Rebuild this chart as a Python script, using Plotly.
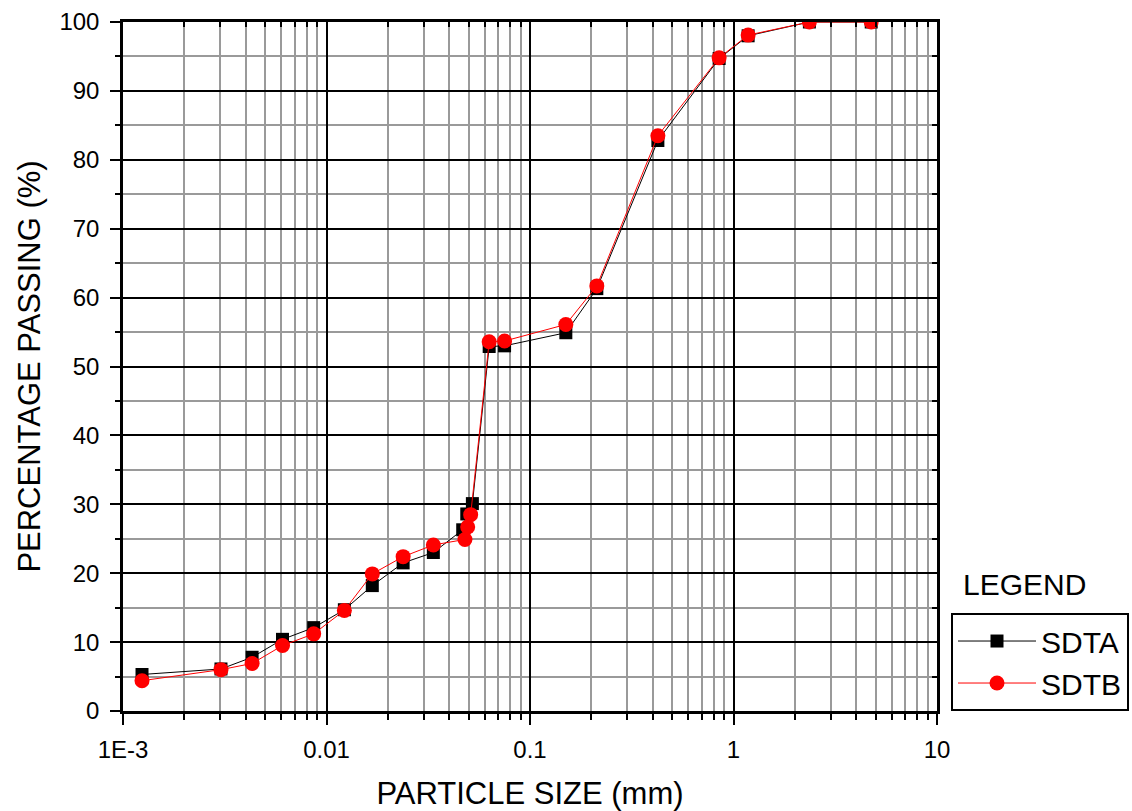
import plotly.graph_objects as go

# ---- data ----
size_a = [0.00124, 0.00303, 0.00431, 0.00608, 0.00865, 0.01224, 0.01679, 0.0238, 0.0335,
          0.0467, 0.0489, 0.0521, 0.063, 0.075, 0.15, 0.213, 0.425, 0.85, 1.18, 2.36, 4.75]
pass_a = [5.3, 6.1, 7.8, 10.4, 12.1, 14.7, 18.2, 21.5, 23.0,
          26.3, 28.6, 30.1, 52.9, 53.0, 54.9, 61.3, 82.8, 94.7, 98.0, 100, 100]

size_b = [0.00124, 0.00303, 0.00431, 0.00608, 0.00865, 0.01224, 0.01679, 0.0238, 0.0335,
          0.0479, 0.0494, 0.0511, 0.063, 0.075, 0.15, 0.213, 0.425, 0.85, 1.18, 2.36, 4.75]
pass_b = [4.4, 6.0, 6.9, 9.5, 11.2, 14.6, 19.9, 22.4, 24.1,
          24.9, 26.7, 28.5, 53.6, 53.7, 56.1, 61.7, 83.5, 94.8, 98.1, 100, 100]

x_tickvals = [0.001, 0.01, 0.1, 1, 10]
x_ticktext = ["1E-3", "0.01", "0.1", "1", "10"]
x_minor = [m * 10.0 ** e for e in range(-3, 1) for m in range(2, 10)]

FONT = "Liberation Sans, Arial, sans-serif"

fig = go.Figure()
fig.add_trace(go.Scatter(
    x=size_a, y=pass_a, name="SDTA", mode="lines+markers",
    line=dict(color="black", width=1),
    marker=dict(symbol="square", size=13, color="black"),
))
fig.add_trace(go.Scatter(
    x=size_b, y=pass_b, name="SDTB", mode="lines+markers",
    line=dict(color="red", width=1),
    marker=dict(symbol="circle", size=15, color="red"),
))
# empty helper trace so the mirrored tick axes exist
fig.add_trace(go.Scatter(x=[], y=[], xaxis="x2", yaxis="y2", showlegend=False, hoverinfo="skip"))

fig.update_layout(
    width=1132, height=811,
    margin=dict(l=123, r=195, t=22, b=100, autoexpand=False),
    paper_bgcolor="white", plot_bgcolor="white",
    font=dict(family=FONT, color="black", size=24),
    showlegend=True,
    legend=dict(
        x=1.0172, y=0.1422, xanchor="left", yanchor="top",
        bordercolor="black", borderwidth=2, bgcolor="white",
        font=dict(family=FONT, size=30, color="black"),
        tracegroupgap=0, itemwidth=78,
    ),
    xaxis=dict(
        type="log", range=[-3, 1], automargin=False,
        tickmode="array", tickvals=x_tickvals, ticktext=x_ticktext,
        ticks="outside", ticklen=11, tickwidth=2, tickcolor="black",
        ticklabelstandoff=4,
        showline=True, linewidth=2.5, linecolor="black", mirror=True,
        showgrid=True, gridcolor="black", gridwidth=2,
        zeroline=False,
        tickfont=dict(family=FONT, size=24, color="black"),
        minor=dict(tickvals=x_minor, ticks="outside", ticklen=6, tickwidth=2, tickcolor="black",
                   showgrid=True, gridcolor="#9a9a9a", gridwidth=1.5),
        title=dict(text="PARTICLE SIZE (mm)", font=dict(family=FONT, size=31, color="black"), standoff=26),
    ),
    yaxis=dict(
        range=[0, 100], tickmode="linear", tick0=0, dtick=10, automargin=False,
        ticks="outside", ticklen=10, tickwidth=2, tickcolor="black",
        ticklabelstandoff=6,
        showline=True, linewidth=2.5, linecolor="black", mirror=True,
        showgrid=True, gridcolor="black", gridwidth=2,
        zeroline=False,
        tickfont=dict(family=FONT, size=24, color="black"),
        minor=dict(dtick=5, ticks="outside", ticklen=5, tickwidth=2, tickcolor="black",
                   showgrid=True, gridcolor="#9a9a9a", gridwidth=1.5),
        title=dict(text="PERCENTAGE PASSING (%)", font=dict(family=FONT, size=31, color="black"), standoff=10),
    ),
    xaxis2=dict(
        type="log", range=[-3, 1], overlaying="x", side="top", anchor="y", automargin=False,
        tickmode="array", tickvals=x_tickvals, showticklabels=False,
        ticks="inside", ticklen=10, tickwidth=2, tickcolor="black",
        showgrid=False, zeroline=False, showline=False,
        minor=dict(tickvals=x_minor, ticks="inside", ticklen=5, tickwidth=2, tickcolor="black", showgrid=False),
    ),
    yaxis2=dict(
        range=[0, 100], overlaying="y", side="right", anchor="x", automargin=False,
        tickmode="linear", tick0=0, dtick=10, showticklabels=False,
        ticks="inside", ticklen=10, tickwidth=2, tickcolor="black",
        showgrid=False, zeroline=False, showline=False,
        minor=dict(dtick=5, ticks="inside", ticklen=5, tickwidth=2, tickcolor="black", showgrid=False),
    ),
    annotations=[dict(
        text="LEGEND", xref="paper", yref="paper", x=1.108, y=0.183,
        xanchor="center", yanchor="middle", showarrow=False,
        font=dict(family=FONT, size=30, color="black"),
    )],
)

fig.write_html("out.html")
